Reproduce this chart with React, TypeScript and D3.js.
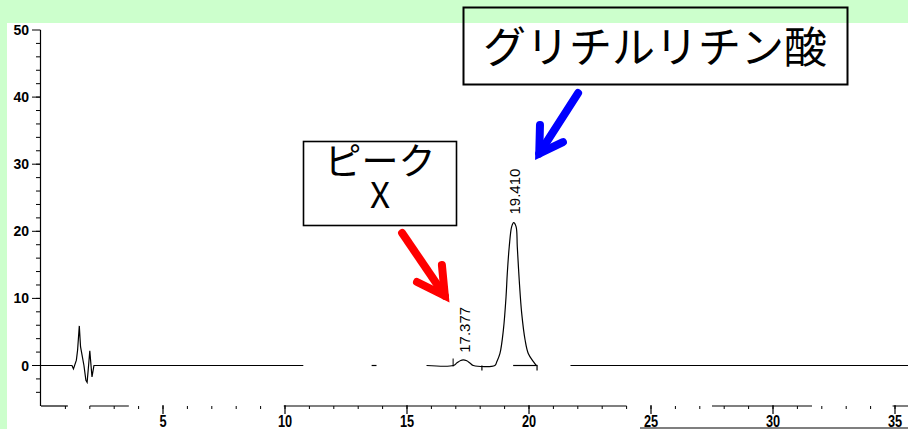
import React from "react";
import * as d3 from "d3";

// ---- data (retention time in min, detector response) ----
const injectionTrace: [number, number][] = [
  [0, 0], [1.27, 0], [1.33, -0.5], [1.45, 0.8], [1.5, 2.3], [1.57, 5.9], [1.62, 2.8],
  [1.76, 0], [1.84, -2.2], [1.89, -2.5], [1.95, 0], [2.0, 2.2], [2.05, 0], [2.09, -1.7],
  [2.17, 0], [10.75, 0],
];
const fragmentTrace: [number, number][] = [[13.55, 0], [13.75, 0]];
const peakTrace: [number, number][] = [
  [15.8, 0], [16.9, 0], [17.05, 0.4], [17.2, 0.75], [17.3, 0.85], [17.45, 0.7], [17.6, 0.3],
  [17.72, 0], [18.6, 0], [18.68, 0.57], [18.81, 1.8], [18.95, 5.3], [19.06, 10.3],
  [19.11, 13.7], [19.19, 17.7], [19.29, 20.7], [19.37, 21.3], [19.47, 20.7], [19.52, 17.7],
  [19.6, 12.7], [19.7, 7.8], [19.84, 3.8], [19.97, 1.8], [20.18, 0.57], [20.3, 0],
];
const integrationBase: [number, number][] = [[19.35, 0], [20.35, 0]];
const tailTrace: [number, number][] = [[21.7, 0], [36.6, 0]];
const eventMarksUp = [16.89];
const eventMarksDown = [18.07, 20.33];

const peakTimes = [17.377, 19.41];
const peakLabels = ["17.377", "19.410"];
const peakLabelValues = [1.9, 22.5];

const yMajorTicks = [0, 10, 20, 30, 40, 50];
const yMinorTicks = d3.range(-4, 50, 2);
const xMajorTicks = [5, 10, 15, 20, 25, 30, 35];
const xMinorTicks = d3.range(1, 37, 1);
const xAxisSegments: [number, number][] = [[0, 1.1], [2.0, 3.6], [9.95, 24.0], [27.5, 31.6], [34.9, 36.6]];

// arrows in data coordinates: [tail, tip, barbA, barbB]
const redArrow: [number, number][] = [[14.8, 19.75], [16.55, 10.4], [15.41, 12.44], [16.43, 14.98]];
const blueArrow: [number, number][] = [[22.01, 40.6], [20.42, 31.6], [20.45, 35.84], [21.39, 33.3]];

export default function App() {
  const W = 908, H = 429;
  const x = d3.scaleLinear().domain([0, 35]).range([41, 895]);
  const y = d3.scaleLinear().domain([0, 50]).range([365.5, 30]);
  const lin = d3.line<[number, number]>().x(d => x(d[0])).y(d => y(d[1]));
  const smooth = d3.line<[number, number]>().x(d => x(d[0])).y(d => y(d[1])).curve(d3.curveCatmullRom.alpha(0.5));
  const axisY = 406;
  const arrowPaths = (a: [number, number][]) => ({
    shaft: lin([a[0], a[1]]) as string,
    head: lin([a[2], a[1], a[3]]) as string,
  });
  const red = arrowPaths(redArrow);
  const blue = arrowPaths(blueArrow);
  const num = "'Liberation Sans', Arial, sans-serif";
  const jp = "'Noto Sans CJK JP', sans-serif";

  return (
    <svg width={W} height={H} style={{ position: "absolute", left: 0, top: 0, background: "#fff" }}>
      <rect x={0} y={0} width={W} height={23} fill="#ccffcc" />
      <rect x={0} y={0} width={7} height={H} fill="#ccffcc" />

      {/* y axis */}
      <line x1={40.5} x2={40.5} y1={y(50)} y2={axisY} stroke="#000" strokeWidth={1.2} />
      {yMinorTicks.map(t => (
        <line key={"ym" + t} x1={36} x2={40.5} y1={y(t)} y2={y(t)} stroke="#000" strokeWidth={1} />
      ))}
      {yMajorTicks.map(t => (
        <g key={"yM" + t}>
          <line x1={32} x2={40.5} y1={y(t)} y2={y(t)} stroke="#000" strokeWidth={1} />
          <text x={29} y={y(t) + 5} textAnchor="end" fontFamily={num} fontWeight="bold" fontSize={14}>{t}</text>
        </g>
      ))}

      {/* x axis */}
      {xAxisSegments.map((s, i) => (
        <line key={"xs" + i} x1={x(s[0])} x2={x(s[1])} y1={axisY} y2={axisY} stroke="#000" strokeWidth={1.2} />
      ))}
      {xMinorTicks.map(t => (
        <line key={"xm" + t} x1={x(t)} x2={x(t)} y1={axisY} y2={axisY + 3} stroke="#000" strokeWidth={1} />
      ))}
      {xMajorTicks.map(t => (
        <g key={"xM" + t}>
          <line x1={x(t)} x2={x(t)} y1={axisY - 1} y2={axisY + 8} stroke="#000" strokeWidth={1.2} />
          <text transform={`translate(${x(t)},427) scale(0.75,1)`} textAnchor="middle" fontFamily={num} fontWeight="bold" fontSize={17}>{t}</text>
        </g>
      ))}
      <line x1={640} x2={W} y1={428} y2={428} stroke="#000" strokeWidth={1.2} />

      {/* chromatogram */}
      <path d={lin(injectionTrace) as string} fill="none" stroke="#000" strokeWidth={1.2} />
      <path d={lin(fragmentTrace) as string} fill="none" stroke="#000" strokeWidth={1.2} />
      <path d={smooth(peakTrace) as string} fill="none" stroke="#000" strokeWidth={1.2} />
      <path d={lin(integrationBase) as string} fill="none" stroke="#000" strokeWidth={1.2} />
      <path d={lin(tailTrace) as string} fill="none" stroke="#000" strokeWidth={1.2} />
      {eventMarksUp.map(t => (
        <line key={"eu" + t} x1={x(t)} x2={x(t)} y1={y(0) - 7} y2={y(0) + 1} stroke="#000" strokeWidth={1} />
      ))}
      {eventMarksDown.map(t => (
        <line key={"ed" + t} x1={x(t)} x2={x(t)} y1={y(0)} y2={y(0) + 5} stroke="#000" strokeWidth={1.2} />
      ))}
      {peakTimes.map((t, i) => (
        <text key={"pl" + i} transform={`translate(${x(t) + 5.5},${y(peakLabelValues[i])}) rotate(-90)`}
          fontFamily={num} fontSize={15}>{peakLabels[i]}</text>
      ))}

      {/* annotations */}
      <rect x={303.5} y={141.5} width={153} height={84} fill="none" stroke="#000" strokeWidth={1.6} />
      <text textAnchor="middle" fontFamily={jp}>
        <tspan x={380} y={175} fontSize={37}>ピーク</tspan>
        <tspan x={380} y={208} fontSize={35}>X</tspan>
      </text>

      <rect x={463.5} y={7.5} width={384} height={77} fill="none" stroke="#000" strokeWidth={2} />
      <text x={655} y={63} textAnchor="middle" fontFamily={jp} fontSize={43}>グリチルリチン酸</text>

      <path d={red.shaft} stroke="#ff0000" strokeWidth={8} strokeLinecap="round" fill="none" />
      <path d={red.head} stroke="#ff0000" strokeWidth={8} strokeLinecap="round" strokeLinejoin="miter" fill="none" />
      <path d={blue.shaft} stroke="#0000ff" strokeWidth={8} strokeLinecap="round" fill="none" />
      <path d={blue.head} stroke="#0000ff" strokeWidth={8} strokeLinecap="round" strokeLinejoin="miter" fill="none" />
    </svg>
  );
}
